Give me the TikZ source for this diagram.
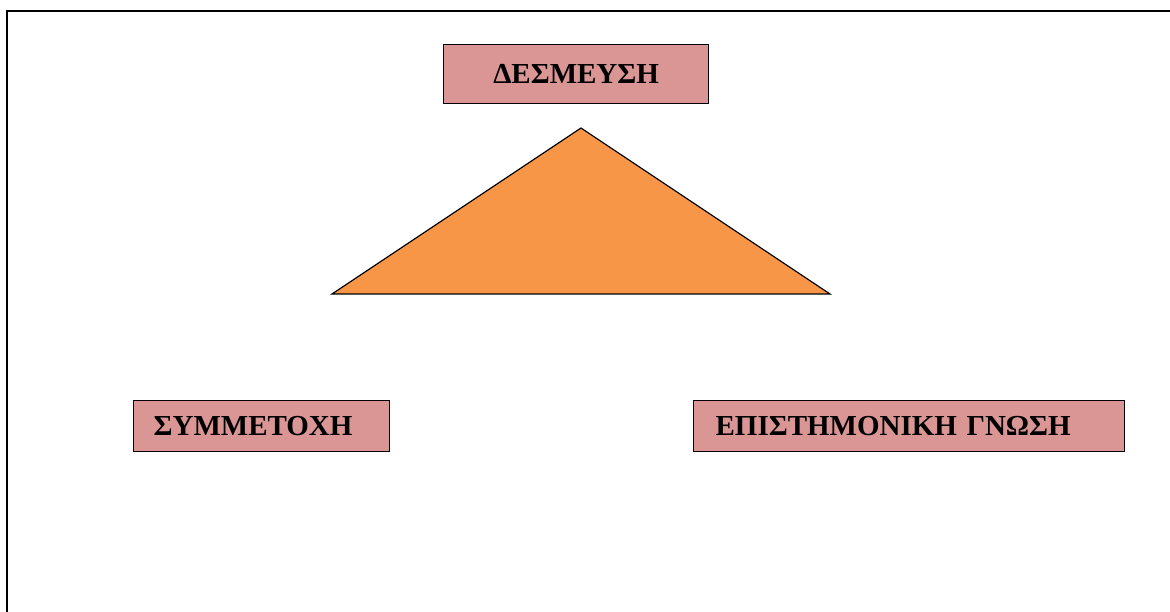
\documentclass[tikz,border=0pt]{standalone}
\usepackage{fontspec}
\setmainfont{Liberation Serif}
\definecolor{boxfill}{HTML}{D99694}
\definecolor{trifill}{HTML}{F79646}
\begin{document}
\begin{tikzpicture}[x=1pt,y=-1pt,
  lbl/.style={draw=black,line width=1.2pt,fill=boxfill,font=\bfseries\fontsize{29}{31}\selectfont,
    minimum height=51pt,inner ysep=0pt,anchor=north west}]
\useasboundingbox (0,0) rectangle (1170,612);
\draw[line width=2.4pt] (1180,11) -- (7,11) -- (7,620);
\node[lbl,minimum width=265pt,minimum height=59pt,align=center] (top) at (443,44) {ΔΕΣΜΕΥΣΗ};
\node[lbl,text width=216pt,inner xsep=20pt,align=left] (left) at (133,400) {ΣΥΜΜΕΤΟΧΗ};
\node[lbl,text width=387pt,inner xsep=22pt,align=left] (right) at (693,400) {ΕΠΙΣΤΗΜΟΝΙΚΗ ΓΝΩΣΗ};
\coordinate (apex) at (581,128);
\coordinate (bl) at (332,294);
\coordinate (br) at (830,294);
\draw[line width=1.2pt,fill=trifill,line join=miter] (apex) -- (br) -- (bl) -- cycle;
\end{tikzpicture}
\end{document}
